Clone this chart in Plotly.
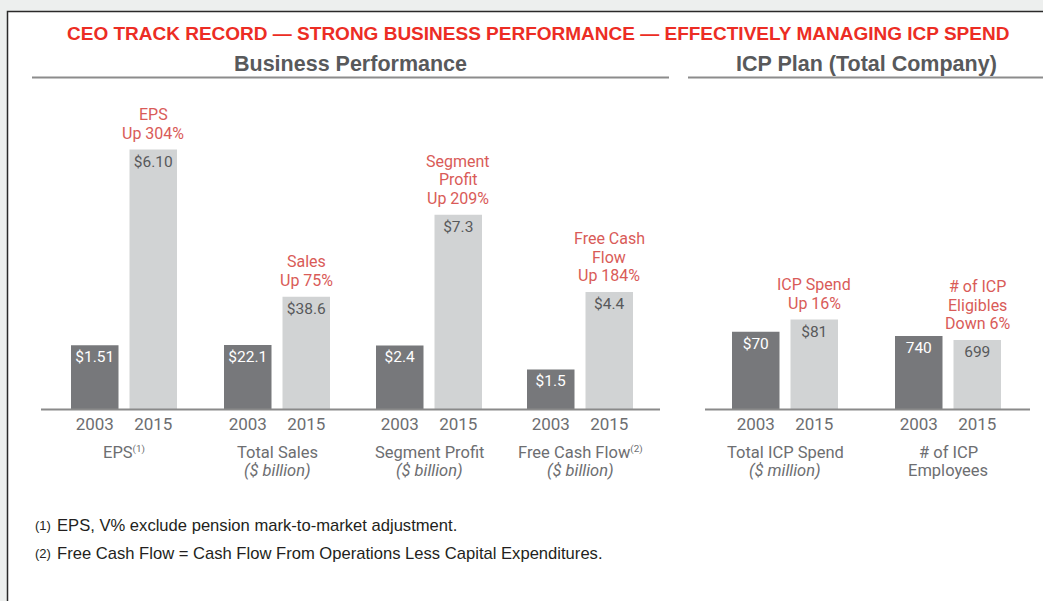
import plotly.graph_objects as go

# ---------------- data ----------------
groups = ["EPS", "Total Sales", "Segment Profit", "Free Cash Flow", "Total ICP Spend", "# of ICP Employees"]
years = ["2003", "2015"]
values_2003 = [1.51, 22.1, 2.4, 1.5, 70, 740]
values_2015 = [6.10, 38.6, 7.3, 4.4, 81, 699]
labels_2003 = ["$1.51", "$22.1", "$2.4", "$1.5", "$70", "740"]
labels_2015 = ["$6.10", "$38.6", "$7.3", "$4.4", "$81", "699"]
change_labels = [
    ["EPS", "Up 304%"],
    ["Sales", "Up 75%"],
    ["Segment", "Profit", "Up 209%"],
    ["Free Cash", "Flow", "Up 184%"],
    ["ICP Spend", "Up 16%"],
    ["# of ICP", "Eligibles", "Down 6%"],
]
SUP = "<span style='font-size:14px'><sup>{}</sup></span>"
category_labels = [
    ["EPS" + SUP.format("(1)")],
    ["Total Sales", "<i>($ billion)</i>"],
    ["Segment Profit", "<i>($ billion)</i>"],
    ["Free Cash Flow" + SUP.format("(2)"), "<i>($ billion)</i>"],
    ["Total ICP Spend", "<i>($ million)</i>"],
    ["# of ICP", "Employees"],
]
title_text = "CEO TRACK RECORD — STRONG BUSINESS PERFORMANCE — EFFECTIVELY MANAGING ICP SPEND"
section_titles = ["Business Performance", "ICP Plan (Total Company)"]
footnotes = [("(1)", "EPS, V% exclude pension mark-to-market adjustment."),
             ("(2)", "Free Cash Flow = Cash Flow From Operations Less Capital Expenditures.")]

# ---------------- layout config (pixels) ----------------
W, H = 1043, 601
group_centers = [124, 277, 429, 580, 785, 948]
half_w = 58.5
baseline_px = 409.5
top_px = 109.5
y_max = [7.04, 102.8, 11.24, 11.24, 270.3, 3019]

DARK = "#77787b"
LIGHT = "#d1d3d4"
RED_SOFT = "#d95b58"
TXT_GRAY = "#6d6e71"
HEAD_GRAY = "#58595b"
CHART_FONT = "Roboto"


def px_x(p):
    return p / W


def px_y(p):
    return 1 - p / H


fig = go.Figure()
layout_axes = {}
annotations = []
idx_2015 = years.index("2015")

for i in range(len(groups)):
    n = "" if i == 0 else str(i + 1)
    fig.add_trace(go.Bar(
        x=years,
        y=[values_2003[i], values_2015[i]],
        xaxis="x" + n, yaxis="y" + n,
        marker=dict(color=[DARK, LIGHT], line=dict(width=0)),
        text=[labels_2003[i], labels_2015[i]],
        textposition="inside",
        insidetextanchor="end",
        constraintext="none",
        textangle=0,
        textfont=dict(family=CHART_FONT, size=15.5, color=["#ffffff", HEAD_GRAY]),
        showlegend=False,
        hoverinfo="skip",
    ))
    c = group_centers[i]
    layout_axes["xaxis" + n] = dict(
        domain=[px_x(c - half_w), px_x(c + half_w)],
        anchor="y" + n, type="category", range=[-0.5, len(years) - 0.5],
        showgrid=False, zeroline=False, showline=False, ticks="",
        ticklabelstandoff=2,
        tickfont=dict(family=CHART_FONT, size=17, color=TXT_GRAY),
        fixedrange=True,
    )
    layout_axes["yaxis" + n] = dict(
        domain=[px_y(baseline_px), px_y(top_px)],
        anchor="x" + n, range=[0, y_max[i]], visible=False, fixedrange=True,
    )
    # change annotations above the 2015 bar
    lines = change_labels[i]
    for k, line in enumerate(reversed(lines)):
        annotations.append(dict(
            x=idx_2015, y=values_2015[i], xref="x" + n, yref="y" + n,
            text=line, showarrow=False, yanchor="bottom", xanchor="center",
            yshift=5 + k * 18.5,
            font=dict(family=CHART_FONT, size=16, color=RED_SOFT),
        ))
    # category labels below the axis
    for k, line in enumerate(category_labels[i]):
        annotations.append(dict(
            x=0.5, xref="x" + n + " domain", y=px_y(452 + k * 18.5), yref="paper",
            text=line, showarrow=False, xanchor="center", yanchor="middle",
            font=dict(family=CHART_FONT, size=16.5, color=TXT_GRAY),
        ))

# titles
annotations.append(dict(x=px_x(538), y=px_y(34), xref="paper", yref="paper", text="<b>" + title_text + "</b>",
                        showarrow=False, xanchor="center", yanchor="middle",
                        font=dict(family="Liberation Sans, Arial", size=19, color="#ec2d24")))
annotations.append(dict(x=px_x(350), y=px_y(64), xref="paper", yref="paper", text="<b>" + section_titles[0] + "</b>",
                        showarrow=False, xanchor="center", yanchor="middle",
                        font=dict(family="Liberation Sans, Arial", size=21.5, color=HEAD_GRAY)))
annotations.append(dict(x=px_x(866), y=px_y(64), xref="paper", yref="paper", text="<b>" + section_titles[1] + "</b>",
                        showarrow=False, xanchor="center", yanchor="middle",
                        font=dict(family="Liberation Sans, Arial", size=21.5, color=HEAD_GRAY)))
# footnotes
for k, (num, txt) in enumerate(footnotes):
    yy = px_y(525 + k * 28)
    annotations.append(dict(x=px_x(33), y=yy, xref="paper", yref="paper", text=num,
                            showarrow=False, xanchor="left", yanchor="middle",
                            font=dict(family="Liberation Sans, Arial", size=13, color="#231f20")))
    annotations.append(dict(x=px_x(55), y=yy, xref="paper", yref="paper", text=txt,
                            showarrow=False, xanchor="left", yanchor="middle",
                            font=dict(family="Liberation Sans, Arial", size=16.6, color="#231f20")))

shapes = [
    # white panel with dark frame
    dict(type="rect", xref="paper", yref="paper", x0=px_x(7.5), x1=px_x(1060), y0=px_y(620), y1=px_y(11.5),
         fillcolor="#ffffff", line=dict(color="#2a2a2a", width=1.5), layer="below"),
    # header underlines
    dict(type="line", xref="paper", yref="paper", x0=px_x(32), x1=px_x(669), y0=px_y(77.5), y1=px_y(77.5),
         line=dict(color="#8c8c8c", width=2)),
    dict(type="line", xref="paper", yref="paper", x0=px_x(688), x1=px_x(1043), y0=px_y(77.5), y1=px_y(77.5),
         line=dict(color="#8c8c8c", width=2)),
    # baselines
    dict(type="line", xref="paper", yref="paper", x0=px_x(41), x1=px_x(660), y0=px_y(baseline_px), y1=px_y(baseline_px),
         line=dict(color="#8a8a8a", width=2)),
    dict(type="line", xref="paper", yref="paper", x0=px_x(705), x1=px_x(1030), y0=px_y(baseline_px), y1=px_y(baseline_px),
         line=dict(color="#8a8a8a", width=2)),
]

fig.update_layout(
    width=W, height=H, autosize=False,
    margin=dict(l=0, r=0, t=0, b=0, pad=0),
    paper_bgcolor="#edefee", plot_bgcolor="rgba(0,0,0,0)",
    bargap=0.188,
    annotations=annotations,
    shapes=shapes,
    **layout_axes,
)

fig.write_html(
    "out.html",
    config={"displayModeBar": False},
    post_script="document.body.style.margin='0';document.body.style.overflow='hidden';",
)
